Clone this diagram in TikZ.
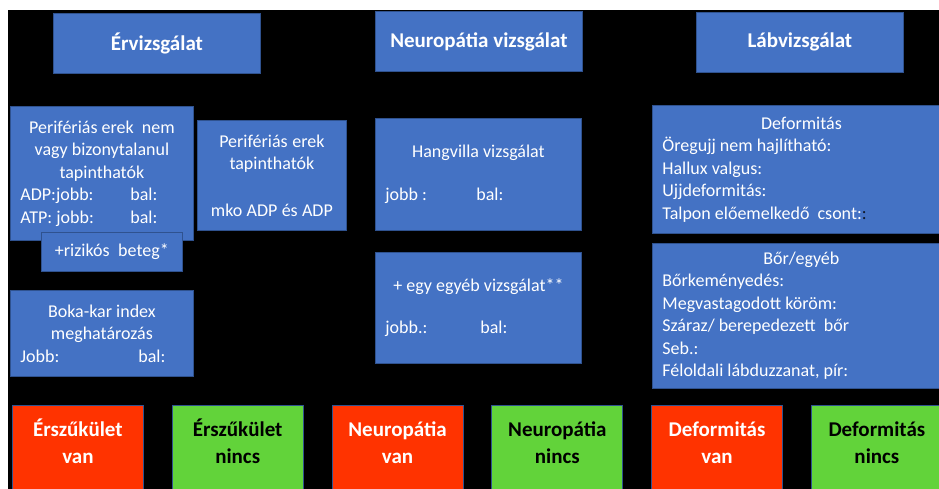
\documentclass[tikz,border=0pt]{standalone}
\usepackage{fontspec}
\setmainfont{Carlito}
\usetikzlibrary{positioning}
\usepackage{xcolor}
\definecolor{BoxBlue}{HTML}{4472C4}
\definecolor{BoxEdge}{HTML}{2F528F}
\definecolor{AlarmRed}{HTML}{FF3300}
\definecolor{OkGreen}{HTML}{62D33A}
\newcommand{\midline}[1]{\leavevmode\hbox to\hsize{\hfil#1\hfil}}

\begin{document}
\begin{tikzpicture}[
  x=1pt, y=-1pt,
  bluebox/.style={draw=BoxEdge, line width=0.8pt, fill=BoxBlue, text=white,
                  inner sep=0pt, anchor=north west, font=\fontsize{18}{22.5}\selectfont},
  headbox/.style={bluebox, minimum width=207pt, minimum height=60pt,
                  font=\bfseries\fontsize{21}{25}\selectfont},
  infobox/.style 2 args={bluebox, align=left, inner xsep=10pt, text width=#1, minimum height=#2,
                  execute at begin node={\spaceskip=0pt\xspaceskip=0pt}},
  verdict/.style={draw=BoxEdge, line width=0.8pt, inner sep=0pt, text width=131pt,
                  minimum height=86pt, align=center, font=\bfseries\fontsize{21}{27}\selectfont,
                  execute at begin node={\strut},
                  execute at end node={\strut\endgraf\vspace{8pt}}},
  redbox/.style={verdict, fill=AlarmRed, text=white},
  greenbox/.style={verdict, fill=OkGreen, text=black},
  node distance=28pt
]
  \useasboundingbox (0,0) rectangle (939,489);
  \fill[white] (0,0) rectangle (939,489);
  \fill[black] (8,10) rectangle (939,489);

  % column heads
  \node[headbox] (ertitle)   at (53,13)  {Érvizsgálat};
  \node[headbox] (neurotitle) at (375,11) {Neuropátia vizsgálat};
  \node[headbox] (labtitle)  at (696,12) {Lábvizsgálat};

  % vessels
  \node[infobox={163pt}{134pt}] (pulsenone) at (10,106)
    {\midline{Perifériás erek\ \ nem}\\ \midline{vagy bizonytalanul}\\ \midline{tapinthatók}\\
     \makebox[110pt][l]{ADP:jobb:}bal:\\ \makebox[110pt][l]{ATP: jobb:}bal:};
  \node[infobox={129pt}{110pt}, align=center] (pulseok) at (197,120)
    {Perifériás erek\\ tapinthatók\\[24pt] mko ADP és ADP};
  \node[infobox={121pt}{39pt}, align=center] (risk) at (41,232) {+rizikós\ \ beteg*};
  \node[infobox={163pt}{86pt}] (abi) at (10,290)
    {\midline{Boka-kar index}\\ \midline{meghatározás}\\ \makebox[118pt][l]{Jobb:}bal:};

  % neuropathy
  \node[infobox={186pt}{112pt}] (tuning) at (375,118)
    {\midline{Hangvilla vizsgálat}\\[20pt] \makebox[91pt][l]{jobb :}bal:};
  \node[infobox={186pt}{111pt}] (extra) at (375,252)
    {\midline{+ egy egyéb vizsgálat**}\\[20pt] \makebox[95pt][l]{jobb.:}bal:};

  % foot
  \node[infobox={278pt}{128pt}] (deform) at (652,105)
    {\midline{Deformitás}\\ Öregujj nem hajlítható:\\ Hallux valgus:\\ Ujjdeformitás:\\
     Talpon előemelkedő\ \ csont:\textcolor{black!80!BoxBlue}{:}};
  \node[infobox={278pt}{145pt}] (skin) at (652,243)
    {\midline{Bőr/egyéb}\\ Bőrkeményedés:\\ Megvastagodott köröm:\\ Száraz/ berepedezett\ \ bőr\\
     Seb.:\\ Féloldali lábduzzanat, pír:};

  % results
  \node[redbox, anchor=north west] (v1) at (12,405) {Érszűkület\\ van};
  \node[greenbox, right=of v1] (n1) {Érszűkület\\ nincs};
  \node[redbox,   right=of n1] (v2) {Neuropátia\\ van};
  \node[greenbox, right=of v2] (n2) {Neuropátia\\ nincs};
  \node[redbox,   right=of n2] (v3) {Deformitás\\ van};
  \node[greenbox, right=of v3] (n3) {Deformitás\\ nincs};
\end{tikzpicture}
\end{document}
